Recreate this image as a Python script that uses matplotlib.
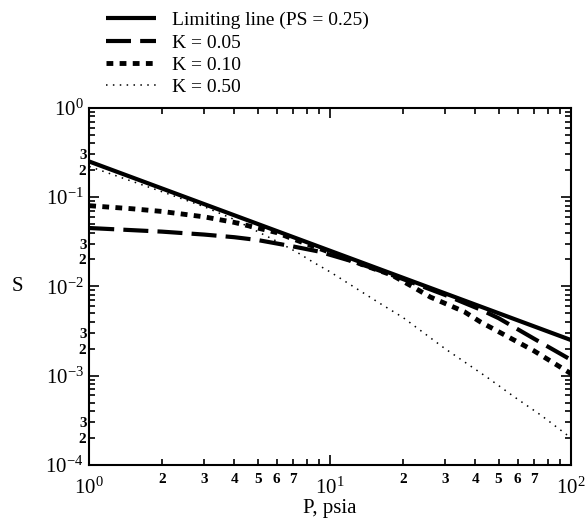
"""S versus P on log-log axes: limiting line and curves for three K values"""

import math
import matplotlib
matplotlib.use("Agg")
from matplotlib import pyplot as plt
from matplotlib.ticker import LogLocator, FuncFormatter

# Values.
p_limit = [1, 2, 5, 10, 20, 50, 100]
s_limit = [0.25, 0.125, 0.05, 0.025, 0.0125, 0.005, 0.0025]

p_k005 = [1, 2, 3, 4, 5, 7, 9, 12, 15, 20, 30, 42, 50, 70, 100]
s_k005 = [0.045, 0.041, 0.038, 0.0355, 0.033, 0.028, 0.0245, 0.0195, 0.016,
          0.0121, 0.0080, 0.0055, 0.0044, 0.0026, 0.0015]

p_k010 = [1, 1.5, 2, 3, 4, 5, 6, 7, 10, 14, 18, 22, 26, 36, 42, 58, 70, 100]
s_k010 = [0.080, 0.074, 0.069, 0.060, 0.052, 0.045, 0.040, 0.034, 0.024,
          0.017, 0.0134, 0.0099, 0.0076, 0.0052, 0.0040, 0.0025, 0.0019,
          0.00105]

p_k050 = [1, 2, 3, 4, 5, 6, 7.3, 8.4, 10, 16, 20, 30, 45, 58, 75, 100]
s_k050 = [0.22, 0.115, 0.078, 0.056, 0.041, 0.032, 0.024, 0.019, 0.0145,
          0.0065, 0.0045, 0.0020, 0.00095, 0.00058, 0.00036, 0.0002]

legend_labels = ["Limiting line (PS = 0.25)", "K = 0.05", "K = 0.10", "K = 0.50"]

plt.rcParams["font.family"] = ["Liberation Serif", "DejaVu Serif"]
plt.rcParams["mathtext.fontset"] = "custom"
plt.rcParams["mathtext.rm"] = "Liberation Serif"
plt.rcParams["mathtext.it"] = "Liberation Serif:italic"

fig = plt.figure(figsize=(5.87, 5.23), dpi=100)
ax = fig.add_axes([0.152, 0.111, 0.821, 0.683])

l1, = ax.plot(p_limit, s_limit, c="black", lw=3.0, solid_capstyle="butt")
l2, = ax.plot(p_k005, s_k005, c="black", lw=3.0, dashes=(6, 2.2))
l3, = ax.plot(p_k010, s_k010, c="black", lw=3.5, dashes=(1.4, 1.3))
l4, = ax.plot(p_k050, s_k050, c="black", lw=1.1, dashes=(1, 3.5))

ax.set_xscale("log")
ax.set_yscale("log")
ax.set_xlim(1, 100)
ax.set_ylim(1e-4, 1)

# Inward ticks on all four sides, minor ticks 2..9 in every decade.
ax.xaxis.set_major_locator(LogLocator(base=10))
ax.yaxis.set_major_locator(LogLocator(base=10))
ax.xaxis.set_minor_locator(LogLocator(base=10, subs=range(2, 10)))
ax.yaxis.set_minor_locator(LogLocator(base=10, subs=range(2, 10)))


def mantissa(v):
    return round(v / 10 ** math.floor(math.log10(v) + 1e-9))


def x_minor(v, pos):
    m = mantissa(v)
    return str(m) if 2 <= m <= 7 else ""


def y_minor(v, pos):
    m = mantissa(v)
    return str(m) if m in (2, 3) else ""


ax.xaxis.set_minor_formatter(FuncFormatter(x_minor))
ax.yaxis.set_minor_formatter(FuncFormatter(y_minor))
ax.tick_params(which="both", direction="in", top=True, right=True, width=1.2)
ax.tick_params(which="major", length=7, labelsize=15)
ax.tick_params(axis="x", which="major", pad=9)
ax.tick_params(axis="y", which="major", pad=4)
ax.tick_params(which="minor", length=4, labelsize=11)
ax.tick_params(axis="x", which="minor", pad=6)
ax.tick_params(axis="y", which="minor", pad=2)
for lab in ax.get_xminorticklabels() + ax.get_yminorticklabels():
    lab.set_fontweight("bold")
for spine in ax.spines.values():
    spine.set_linewidth(1.5)

ax.set_xlabel("P, psia", fontsize=15, labelpad=0)
ax.set_ylabel("S", fontsize=15, rotation=0, labelpad=20, va="center")

fig.legend([l1, l2, l3, l4], legend_labels, loc="upper left",
           bbox_to_anchor=(0.16, 1.0), frameon=False, fontsize=14,
           handlelength=2.6, handletextpad=0.8, labelspacing=0.24,
           borderaxespad=0.2)

fig.savefig("out.png", dpi=100)
